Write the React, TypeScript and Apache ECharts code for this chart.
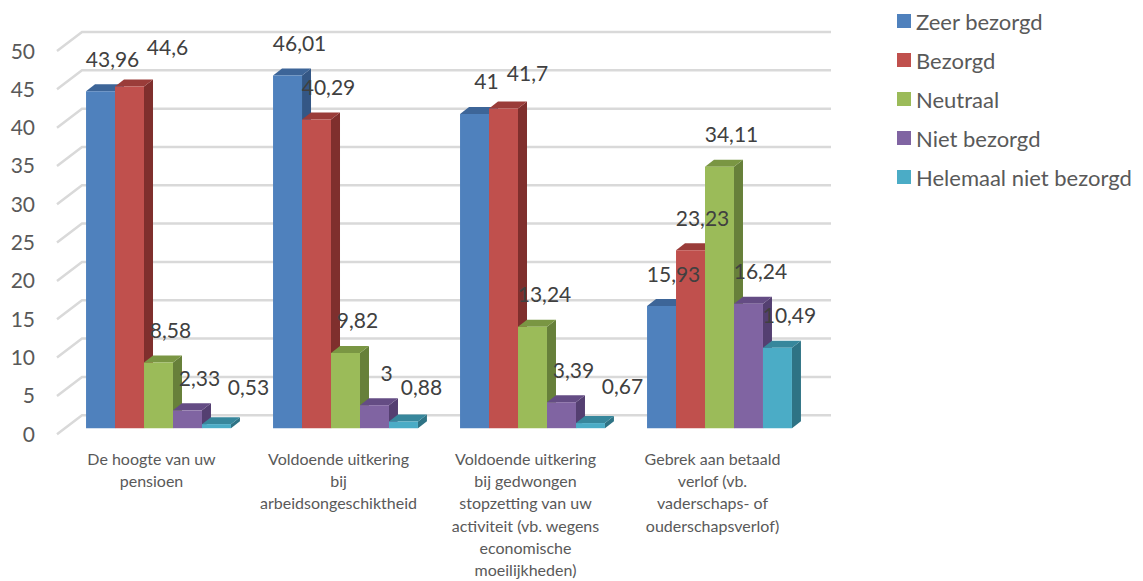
import React, { useEffect, useRef } from "react";
import * as echarts from "echarts";

const categories = [
  "De hoogte van uw\npensioen",
  "Voldoende uitkering\nbij\narbeidsongeschiktheid",
  "Voldoende uitkering\nbij gedwongen\nstopzetting van uw\nactiviteit (vb. wegens\neconomische\nmoeilijkheden)",
  "Gebrek aan betaald\nverlof (vb.\nvaderschaps- of\nouderschapsverlof)",
];
const seriesNames = ["Zeer bezorgd", "Bezorgd", "Neutraal", "Niet bezorgd", "Helemaal niet bezorgd"];
const zeerBezorgd = [43.96, 46.01, 41, 15.93];
const bezorgd = [44.6, 40.29, 41.7, 23.23];
const neutraal = [8.58, 9.82, 13.24, 34.11];
const nietBezorgd = [2.33, 3, 3.39, 16.24];
const helemaalNiet = [0.53, 0.88, 0.67, 10.49];
const yTicks = [0, 5, 10, 15, 20, 25, 30, 35, 40, 45, 50];

const seriesValues = [zeerBezorgd, bezorgd, neutraal, nietBezorgd, helemaalNiet];
const frontColors = ["#4F81BD", "#C0504D", "#9BBB59", "#8064A2", "#4BACC6"];
const topColors = ["#3D6598", "#9A3C39", "#7A9643", "#644C84", "#37879C"];
const sideColors = ["#345785", "#7F2F2D", "#67803A", "#543F71", "#2E7385"];

const FONT = "Lato, 'Open Sans', sans-serif";
const DX = 9;
const DY = 7;
const BAR_FRAC = 0.155;

const fmt = (v: number) => String(v).replace(".", ",");
const textWidth = (s: string) => {
  let w = 0;
  for (const ch of s) w += ch === "," ? 5 : 11.2;
  return w;
};

export default function App() {
  const ref = useRef<HTMLDivElement>(null);
  useEffect(() => {
    if (!ref.current) return;
    const chart = echarts.init(ref.current, undefined, { renderer: "svg" });

    const barSeries = seriesValues.map((vals, si) => ({
      type: "custom" as const,
      name: seriesNames[si],
      itemStyle: { color: frontColors[si] },
      z: 10,
      data: vals.map((v, ci) => [ci, v]),
      renderItem: (params: any, api: any) => {
        const ci = api.value(0);
        const v = api.value(1);
        const center = api.coord([ci, v]);
        const base = api.coord([ci, 0]);
        const band = api.size([1, 0])[0];
        const w = band * BAR_FRAC;
        const x0 = center[0] - w * 2.5 + si * w;
        const top = center[1];
        const yb = base[1];
        return {
          type: "group",
          children: [
            {
              type: "polygon",
              shape: { points: [[x0 + w, top], [x0 + w + DX, top - DY], [x0 + w + DX, yb - DY], [x0 + w, yb]] },
              style: { fill: sideColors[si] },
            },
            {
              type: "polygon",
              shape: { points: [[x0, top], [x0 + DX, top - DY], [x0 + w + DX, top - DY], [x0 + w, top]] },
              style: { fill: topColors[si] },
            },
            {
              type: "rect",
              shape: { x: x0, y: top, width: w, height: yb - top },
              style: { fill: frontColors[si] },
            },
          ],
        };
      },
    }));

    const labelSeries = {
      type: "custom" as const,
      name: "labels",
      z: 20,
      silent: true,
      data: categories.map((_, ci) => [ci, 0]),
      renderItem: (params: any, api: any) => {
        const ci = api.value(0);
        const band = api.size([1, 0])[0];
        const w = band * BAR_FRAC;
        const placed: { l: number; r: number; t: number; b: number }[] = [];
        const children: any[] = [];
        seriesValues.forEach((vals, si) => {
          const v = vals[ci];
          const c = api.coord([ci, v]);
          const barCx = c[0] - w * 2.5 + si * w + w / 2;
          const text = fmt(v);
          const tw = textWidth(text);
          let x = barCx + 12;
          let y = c[1] - 33;
          for (let k = 0; k < 40; k++) {
            const box = { l: x - tw / 2, r: x + tw / 2, t: y - 11, b: y + 11 };
            const hit = placed.some((p) => box.l < p.r + 9 && box.r > p.l - 9 && box.t < p.b && box.b > p.t);
            if (!hit) break;
            x += 2;
            y -= 0.5;
          }
          placed.push({ l: x - tw / 2, r: x + tw / 2, t: y - 11, b: y + 11 });
          children.push({
            type: "text",
            x,
            y,
            style: {
              text,
              fill: "#404040",
              font: `21px ${FONT}`,
              align: "center",
              verticalAlign: "middle",
            },
          });
        });
        return { type: "group", children };
      },
    };

    const gridSeries = {
      type: "custom" as const,
      name: "grid",
      z: 1,
      silent: true,
      data: yTicks.map((t) => [0, t]),
      renderItem: (params: any, api: any) => {
        const y = api.coord([0, api.value(1)])[1];
        const cs = params.coordSys;
        const xf = cs.x - 8;
        const xb = cs.x + 17;
        const xr = cs.x + cs.width + 18;
        return {
          type: "polyline",
          shape: { points: [[xf, y + 6], [xb, y - 13], [xr, y - 13]] },
          style: { stroke: "#D9D9D9", lineWidth: 2.5, fill: "none" },
        };
      },
    };

    chart.setOption({
      animation: false,
      legend: {
        data: seriesNames,
        orient: "vertical",
        left: 897,
        top: 10,
        padding: 0,
        itemWidth: 14,
        itemHeight: 14,
        itemGap: 17,
        icon: "rect",
        textStyle: { fontSize: 22, color: "#595959", fontFamily: FONT },
      },
      grid: { left: 65, right: 330, top: 45, bottom: 151 },
      xAxis: {
        type: "category",
        data: categories,
        axisLine: { show: false },
        axisTick: { show: false },
        axisLabel: {
          interval: 0,
          margin: 19,
          fontSize: 16,
          lineHeight: 22.3,
          color: "#595959",
          fontFamily: FONT,
          padding: [0, 14, 0, 0],
        },
      },
      yAxis: {
        type: "value",
        min: 0,
        max: 50,
        interval: 5,
        axisLine: { show: false },
        axisTick: { show: false },
        splitLine: { show: false },
        axisLabel: {
          fontSize: 21,
          color: "#595959",
          fontFamily: FONT,
          margin: 30,
          verticalAlign: "top",
          lineHeight: 10,
        },
      },
      series: [gridSeries, ...barSeries, labelSeries],
    });
    return () => chart.dispose();
  }, []);
  return <div ref={ref} style={{ width: 1143, height: 581, position: "absolute", left: 0, top: 0 }} />;
}
